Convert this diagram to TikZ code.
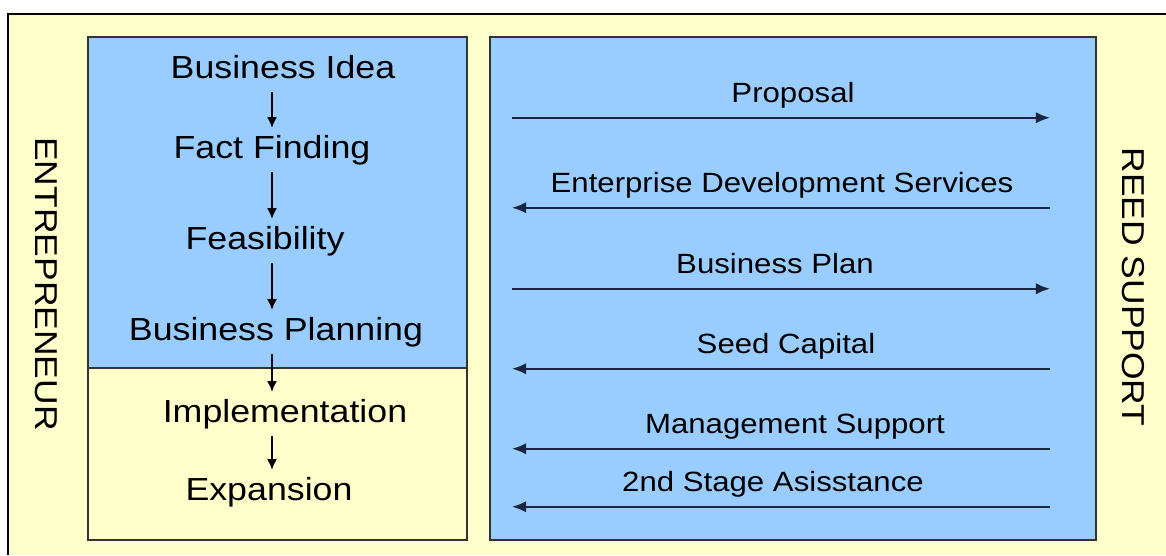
\documentclass[tikz,border=0pt]{standalone}
\usepackage{fontspec}
\setmainfont{Liberation Sans}[FakeStretch=1.12]
\usetikzlibrary{arrows.meta}

\definecolor{paleyellow}{RGB}{255,255,204}
\definecolor{skyblue}{RGB}{153,204,255}
\definecolor{boxline}{RGB}{51,51,51}
\definecolor{navyline}{RGB}{25,38,66}

\tikzset{
	stage/.style={anchor=base, font=\fontsize{22.7}{26}\selectfont, text height=16.3pt, text depth=4.8pt, inner xsep=0pt, inner ysep=5pt},
	flow/.style={-{Latex[length=7.5pt,width=7pt]}, line width=1pt},
	offer/.style={anchor=base, font=\fontsize{19.8}{24}\selectfont, text depth=4.2pt, inner xsep=0pt, inner ysep=6.8pt},
	deal/.style={line width=1.3pt, navyline, >={Latex[length=10pt,width=8pt]}},
	party/.style={anchor=base, rotate=-90, font=\fontsize{22.5}{26}\selectfont}
}

\begin{document}
\begin{tikzpicture}[x=0.025cm, y=-0.025cm, line join=miter]
	\useasboundingbox (0,0) rectangle (1166,555);
	% background and frame
	\fill[paleyellow] (8,14) rectangle (1166,555);
	\draw[line width=1.5pt] (8,555) -- (8,14) -- (1166,14);
	% entrepreneur column
	\fill[skyblue] (88,37) rectangle (467,368);
	\draw[boxline, line width=1.2pt] (88,37) rectangle (467,540);
	\draw[boxline, line width=1.2pt] (88,368) -- (467,368);
	% support column
	\draw[boxline, line width=1.2pt, fill=skyblue] (490,37) rectangle (1096,540);

	% side labels
	\node[party] (ent) at (35,284) {ENTREPRENEUR};
	\node[party] (reed) at (1122,287) {REED SUPPORT};

	% stages
	\node[stage] (idea) at (283,78) {Business Idea};
	\node[stage] (fact) at (272,158) {Fact Finding};
	\node[stage] (feas) at (265,249) {Feasibility};
	\node[stage] (plan) at (276,340) {Business Planning};
	\node[stage] (impl) at (285,422) {Implementation};
	\node[stage] (expn) at (269,500) {Expansion};

	\coordinate (axis) at (272,0);
	\draw[flow] (axis |- idea.south) -- (axis |- fact.north);
	\draw[flow] (axis |- fact.south) -- (axis |- feas.north);
	\draw[flow] (axis |- feas.south) -- (axis |- plan.north);
	\draw[flow] (axis |- plan.south) -- (axis |- impl.north);
	\draw[flow] (axis |- impl.south) -- (axis |- expn.north);

	% exchanges
	\foreach \i/\x/\y/\txt in {1/793/102/Proposal, 2/782/192/Enterprise Development Services, 3/775/273/Business Plan, 4/786/353/Seed Capital, 5/795/433/Management Support, 6/773/491/2nd Stage Asisstance}
	\node[offer] (msg\i) at (\x,\y) {\txt};

	\coordinate (lend) at (512,0);
	\coordinate (rend) at (1050,0);
	\foreach \i in {1,3}
	\draw[deal, ->] (lend |- msg\i.south) -- (rend |- msg\i.south);
	\foreach \i in {2,4,5,6}
	\draw[deal, <-] (lend |- msg\i.south) -- (rend |- msg\i.south);
\end{tikzpicture}
\end{document}
